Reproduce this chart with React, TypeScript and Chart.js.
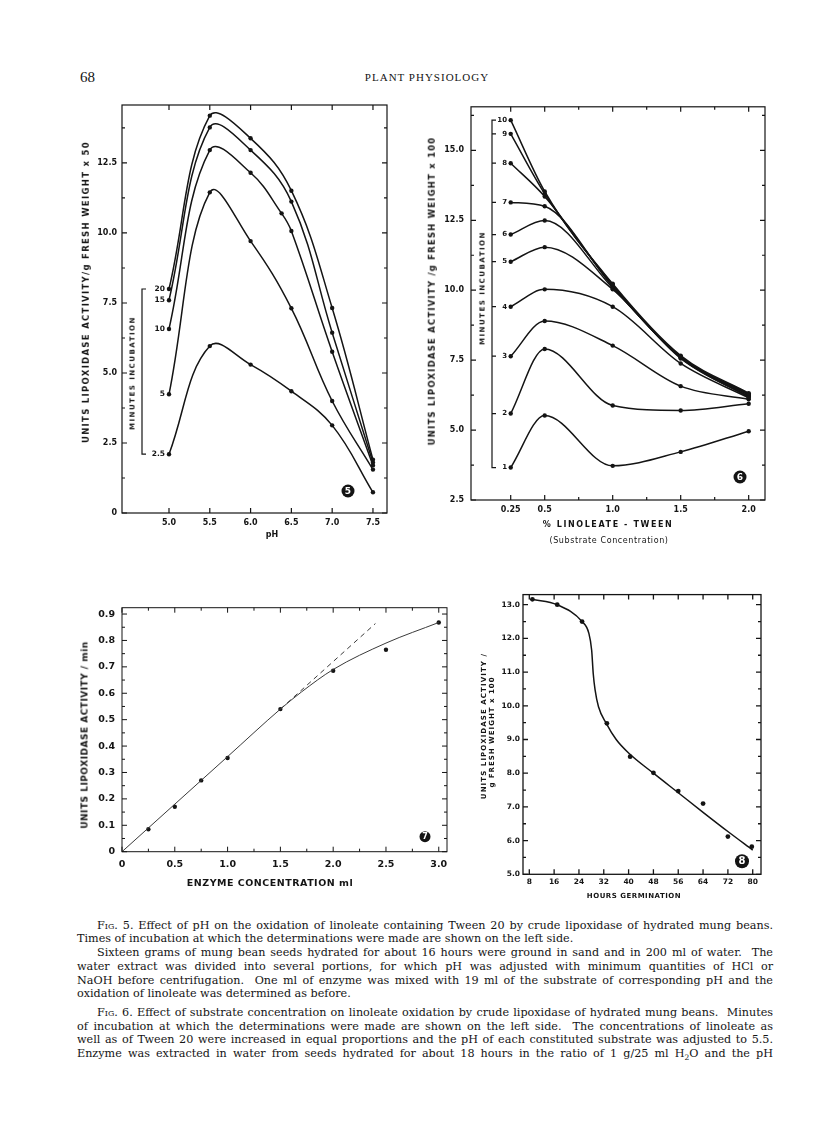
import React, { useEffect, useRef } from "react";
import { Chart, registerables } from "chart.js";
Chart.register(...registerables);

const INK = "#141414";
const FONT = "DejaVu Sans";

// ---------- Fig. 5 (pH) ----------
const fig5X = [5.0, 5.5, 6.0, 6.5, 7.0, 7.5];
const fig5Min20 = [8.0, 14.19, 13.38, 11.51, 7.32, 1.9];
const fig5Min15 = [7.6, 13.77, 12.96, 11.12, 6.44, 1.8];
const fig5Min10X = [5.0, 5.5, 6.0, 6.38, 6.5, 7.0, 7.5];
const fig5Min10 = [6.57, 12.96, 12.15, 10.7, 10.07, 5.76, 1.7];
const fig5Min5 = [4.24, 11.45, 9.71, 7.31, 4.0, 1.55];
const fig5Min2p5 = [2.1, 5.96, 5.3, 4.35, 3.13, 0.74];
const fig5SeriesLabels = ["20", "15", "10", "5", "2.5"];
const fig5XTicks = [5.0, 5.5, 6.0, 6.5, 7.0, 7.5];
const fig5XTickLabels = ["5.0", "5.5", "6.0", "6.5", "7.0", "7.5"];
const fig5YTicks = [0, 2.5, 5, 7.5, 10, 12.5];
const fig5YTickLabels = ["0", "2.5", "5.0", "7.5", "10.0", "12.5"];
const fig5YMinor = [1.25, 3.75, 6.25, 8.75, 11.25, 13.75];

// ---------- Fig. 6 (substrate) ----------
const fig6X = [0.25, 0.5, 1.0, 1.5, 2.0];
const fig6Min10 = [16.08, 13.53, 10.23, 7.66, 6.32];
const fig6Min9 = [15.59, 13.45, 10.2, 7.63, 6.29];
const fig6Min8 = [14.54, 13.35, 10.15, 7.62, 6.27];
const fig6Min7 = [13.14, 13.0, 10.13, 7.6, 6.24];
const fig6Min6 = [11.99, 12.49, 10.08, 7.58, 6.2];
const fig6Min5 = [11.02, 11.54, 10.03, 7.56, 6.18];
const fig6Min4 = [9.41, 10.03, 9.41, 7.38, 6.15];
const fig6Min3 = [7.64, 8.9, 8.02, 6.57, 6.1];
const fig6Min2 = [5.59, 7.9, 5.88, 5.7, 5.94];
const fig6Min1 = [3.66, 5.52, 3.72, 4.22, 4.96];
const fig6SeriesLabels = ["10", "9", "8", "7", "6", "5", "4", "3", "2", "1"];
const fig6XTicks = [0.25, 0.5, 1.0, 1.5, 2.0];
const fig6XTickLabels = ["0.25", "0.5", "1.0", "1.5", "2.0"];
const fig6XMinor = [0.75, 1.25, 1.75];
const fig6YTicks = [2.5, 5, 7.5, 10, 12.5, 15];
const fig6YTickLabels = ["2.5", "5.0", "7.5", "10.0", "12.5", "15.0"];
const fig6YMinor = [3.75, 6.25, 8.75, 11.25, 13.75, 16.25];

// ---------- Fig. 7 (enzyme concentration) ----------
const fig7X = [0.25, 0.5, 0.75, 1.0, 1.5, 2.0, 2.5, 3.0];
const fig7Y = [0.085, 0.17, 0.27, 0.355, 0.54, 0.685, 0.765, 0.868];
const fig7FitX = [0, 1.0, 1.5, 1.7, 2.0, 2.5, 3.0];
const fig7FitY = [0, 0.36, 0.54, 0.605, 0.69, 0.79, 0.868];
const fig7DashX = [1.5, 2.4];
const fig7DashY = [0.54, 0.864];
const fig7XTicks = [0, 0.5, 1.0, 1.5, 2.0, 2.5, 3.0];
const fig7XTickLabels = ["0", "0.5", "1.0", "1.5", "2.0", "2.5", "3.0"];
const fig7XMinor = [0.25, 0.75, 1.25, 1.75, 2.25, 2.75];
const fig7YTicks = [0, 0.1, 0.2, 0.3, 0.4, 0.5, 0.6, 0.7, 0.8, 0.9];
const fig7YTickLabels = ["0", "0.1", "0.2", "0.3", "0.4", "0.5", "0.6", "0.7", "0.8", "0.9"];
const fig7YMinor = [0.05, 0.15, 0.25, 0.35, 0.45, 0.55, 0.65, 0.75, 0.85];

// ---------- Fig. 8 (hours germination) ----------
const fig8X = [9, 17, 25, 33, 40.5, 48, 56, 64, 72, 79.7];
const fig8Y = [13.16, 13.0, 12.5, 9.48, 8.49, 8.01, 7.47, 7.1, 6.12, 5.82];
const fig8FitX = [9, 17, 25, 27.2, 28.1, 28.6, 29.2, 30.3, 32.8, 36, 40, 48, 56, 64, 72, 80];
const fig8FitY = [13.16, 13.0, 12.5, 12.15, 11.65, 10.96, 10.47, 9.97, 9.48, 9.0, 8.6, 8.0, 7.42, 6.84, 6.27, 5.72];
const fig8XTicks = [8, 16, 24, 32, 40, 48, 56, 64, 72, 80];
const fig8XTickLabels = ["8", "16", "24", "32", "40", "48", "56", "64", "72", "80"];
const fig8YTicks = [5, 6, 7, 8, 9, 10, 11, 12, 13];
const fig8YTickLabels = ["5.0", "6.0", "7.0", "8.0", "9.0", "10.0", "11.0", "12.0", "13.0"];
const fig8YMinor = [5.5, 6.5, 7.5, 8.5, 9.5, 10.5, 11.5, 12.5];

// ---------- helpers ----------
const pts = (xs: number[], ys: number[]) => xs.map((x, i) => ({ x, y: ys[i] }));

const curve = (xs: number[], ys: number[], extra: any = {}) => ({
  data: pts(xs, ys),
  borderColor: INK,
  backgroundColor: INK,
  borderWidth: 1.5,
  pointRadius: 2.2,
  pointBackgroundColor: INK,
  pointBorderWidth: 0,
  tension: 0.4,
  ...extra,
});

function framePlugin(xMaj: number[], xMin: number[], yMaj: number[], yMin: number[], lw = 1.2) {
  return {
    id: "frameTicks",
    afterDatasetsDraw(chart: any) {
      const { ctx, chartArea: a, scales } = chart;
      const sx = scales.x, sy = scales.y;
      ctx.save();
      ctx.strokeStyle = INK;
      ctx.lineWidth = lw;
      ctx.strokeRect(a.left, a.top, a.right - a.left, a.bottom - a.top);
      ctx.beginPath();
      const hx = (vals: number[], len: number) =>
        vals.forEach((v) => {
          const p = sx.getPixelForValue(v);
          ctx.moveTo(p, a.bottom); ctx.lineTo(p, a.bottom - len);
          ctx.moveTo(p, a.top); ctx.lineTo(p, a.top + len);
        });
      const vy = (vals: number[], len: number) =>
        vals.forEach((v) => {
          const p = sy.getPixelForValue(v);
          ctx.moveTo(a.left, p); ctx.lineTo(a.left + len, p);
          ctx.moveTo(a.right, p); ctx.lineTo(a.right - len, p);
        });
      hx(xMaj, 5); hx(xMin, 3); vy(yMaj, 5); vy(yMin, 3);
      ctx.stroke();
      ctx.restore();
    },
  };
}

function badgePlugin(text: string, dx: number, dy: number, r: number) {
  return {
    id: "badge",
    afterDraw(chart: any) {
      const { ctx, chartArea: a } = chart;
      const cx = a.right - dx, cy = a.bottom - dy;
      ctx.save();
      ctx.fillStyle = INK;
      ctx.beginPath();
      ctx.arc(cx, cy, r, 0, Math.PI * 2);
      ctx.fill();
      ctx.fillStyle = "#fff";
      ctx.font = `bold ${Math.round(r * 1.45)}px ${FONT}`;
      ctx.textAlign = "center";
      ctx.textBaseline = "middle";
      ctx.fillText(text, cx, cy + 0.5);
      ctx.restore();
    },
  };
}

function bracketPlugin(labels: string[], firsts: number[], lineDx: number, labelDx: number, size: number, tickAll: boolean) {
  return {
    id: "bracket",
    afterDraw(chart: any) {
      const { ctx, chartArea: a, scales } = chart;
      const sy = scales.y;
      const ys = firsts.map((v) => sy.getPixelForValue(v));
      const top = Math.min(...ys), bot = Math.max(...ys);
      const bx = a.left + lineDx;
      ctx.save();
      ctx.strokeStyle = INK;
      ctx.lineWidth = 1.2;
      ctx.beginPath();
      ctx.moveTo(bx + 4, top); ctx.lineTo(bx, top); ctx.lineTo(bx, bot); ctx.lineTo(bx + 4, bot);
      if (tickAll) ys.forEach((y) => { ctx.moveTo(bx, y); ctx.lineTo(bx + 4, y); });
      ctx.stroke();
      ctx.fillStyle = INK;
      ctx.font = `bold ${size}px ${FONT}`;
      ctx.textAlign = "right";
      ctx.textBaseline = "middle";
      labels.forEach((t, i) => ctx.fillText(t, a.left + labelDx, ys[i]));
      ctx.restore();
    },
  };
}

function buildConfig(p: any) {
  return {
    type: "line",
    data: { datasets: p.datasets },
    plugins: p.plugins,
    options: {
      responsive: false,
      animation: false,
      devicePixelRatio: 1,
      layout: { padding: { left: 0, right: p.padR, top: p.padT, bottom: 0 } },
      plugins: { legend: { display: false }, tooltip: { enabled: false } },
      scales: {
        x: {
          type: "linear", min: p.xMin, max: p.xMax,
          grid: { display: false, drawTicks: false }, border: { display: false },
          afterBuildTicks: (s: any) => { s.ticks = p.xTicks.map((v: number) => ({ value: v })); },
          afterFit: (s: any) => { s.height = p.xH; },
          ticks: { autoSkip: false, maxRotation: 0, padding: p.xPad, color: INK, font: p.xFont || p.font,
            callback: (_v: any, i: number) => p.xLabels[i] },
        },
        y: {
          type: "linear", min: p.yMin, max: p.yMax,
          grid: { display: false, drawTicks: false }, border: { display: false },
          afterBuildTicks: (s: any) => { s.ticks = p.yTicks.map((v: number) => ({ value: v })); },
          afterFit: (s: any) => { s.width = p.yW; },
          ticks: { autoSkip: false, padding: p.yPad, color: INK, font: p.font,
            callback: (_v: any, i: number) => p.yLabels[i] },
        },
      },
    },
  };
}

function ChartBox({ left, top, width, height, make }: any) {
  const ref = useRef<HTMLCanvasElement>(null);
  useEffect(() => {
    const chart = new Chart(ref.current as HTMLCanvasElement, make());
    return () => chart.destroy();
  }, []);
  return (
    <canvas ref={ref} width={width} height={height}
      style={{ position: "absolute", left, top, width, height }} />
  );
}

const makeFig5 = () =>
  buildConfig({
    datasets: [
      curve(fig5X, fig5Min20),
      curve(fig5X, fig5Min15),
      curve(fig5Min10X, fig5Min10),
      curve(fig5X, fig5Min5),
      curve(fig5X, fig5Min2p5),
    ],
    plugins: [
      framePlugin(fig5XTicks, [], fig5YTicks, fig5YMinor),
      bracketPlugin(fig5SeriesLabels, [fig5Min20[0], fig5Min15[0], fig5Min10[0], fig5Min5[0], fig5Min2p5[0]], 20, 43, 7.5, false),
      badgePlugin("5", 39, 22, 6.5),
    ],
    xMin: 4.424, xMax: 7.672, yMin: 0, yMax: 14.57,
    xTicks: fig5XTicks, xLabels: fig5XTickLabels, yTicks: fig5YTicks, yLabels: fig5YTickLabels,
    yW: 42, xH: 42, padT: 10, padR: 23, xPad: 5, yPad: 5,
    font: { family: FONT, size: 8, weight: "bold" },
  });

const mono = { cubicInterpolationMode: "monotone" };

const makeFig6 = () =>
  buildConfig({
    datasets: [
      curve(fig6X, fig6Min10, mono), curve(fig6X, fig6Min9, mono), curve(fig6X, fig6Min8, mono), curve(fig6X, fig6Min7, mono),
      curve(fig6X, fig6Min6, mono), curve(fig6X, fig6Min5, mono), curve(fig6X, fig6Min4, mono), curve(fig6X, fig6Min3, mono),
      curve(fig6X, fig6Min2, mono), curve(fig6X, fig6Min1, mono),
    ],
    plugins: [
      framePlugin(fig6XTicks, fig6XMinor, fig6YTicks, fig6YMinor),
      bracketPlugin(fig6SeriesLabels,
        [fig6Min10[0], fig6Min9[0], fig6Min8[0], fig6Min7[0], fig6Min6[0], fig6Min5[0], fig6Min4[0], fig6Min3[0], fig6Min2[0], fig6Min1[0]],
        21, 36, 7, true),
      badgePlugin("6", 25, 23, 6.5),
    ],
    xMin: -0.042, xMax: 2.12, yMin: 2.5, yMax: 16.557,
    xTicks: fig6XTicks, xLabels: fig6XTickLabels, yTicks: fig6YTicks, yLabels: fig6YTickLabels,
    yW: 46, xH: 55, padT: 10, padR: 20, xPad: 5, yPad: 7,
    font: { family: FONT, size: 8, weight: "bold" },
  });

const makeFig7 = () =>
  buildConfig({
    datasets: [
      { ...curve(fig7FitX, fig7FitY, { borderWidth: 1, borderColor: "#3a3a3a", pointRadius: 0, cubicInterpolationMode: "monotone" }) },
      { ...curve(fig7DashX, fig7DashY, { borderWidth: 1, borderColor: "#3a3a3a", pointRadius: 0, borderDash: [5, 4], tension: 0 }) },
      { ...curve(fig7X, fig7Y, { showLine: false, pointRadius: 2.2 }) },
    ],
    plugins: [
      framePlugin(fig7XTicks, fig7XMinor, fig7YTicks, fig7YMinor, 1),
      badgePlugin("7", 22, 15, 5.5),
    ],
    xMin: 0, xMax: 3.078, yMin: 0, yMax: 0.924,
    xTicks: fig7XTicks, xLabels: fig7XTickLabels, yTicks: fig7YTicks, yLabels: fig7YTickLabels,
    yW: 42, xH: 43.3, padT: 9, padR: 13, xPad: 7, yPad: 7,
    font: { family: FONT, size: 9.5, weight: "bold" },
  });

const makeFig8 = () =>
  buildConfig({
    datasets: [
      { ...curve(fig8FitX, fig8FitY, { pointRadius: 0, cubicInterpolationMode: "monotone" }) },
      { ...curve(fig8X, fig8Y, { showLine: false, pointRadius: 2.4 }) },
    ],
    plugins: [
      framePlugin(fig8XTicks, [], fig8YTicks, fig8YMinor, 1.3),
      badgePlugin("8", 19, 13, 7),
    ],
    xMin: 5.97, xMax: 82.67, yMin: 5, yMax: 13.3,
    xTicks: fig8XTicks, xLabels: fig8XTickLabels, yTicks: fig8YTicks, yLabels: fig8YTickLabels,
    yW: 43, xH: 25.7, padT: 8.6, padR: 19, xPad: 3, yPad: 3,
    font: { family: FONT, size: 7.5, weight: "bold" },
  });

function Txt({ x, y, t, size, bold = true, ls = 0, rot = false, fam = FONT }: any) {
  return (
    <div style={{
      position: "absolute", left: x, top: y, whiteSpace: "nowrap",
      transform: `translate(-50%, -50%)${rot ? " rotate(-90deg)" : ""}`,
      fontFamily: fam, fontSize: size, fontWeight: bold ? "bold" : "normal",
      letterSpacing: ls, color: INK, lineHeight: 1,
    }}>{t}</div>
  );
}

const SC = ({ children }: any) => <span style={{ fontVariant: "small-caps" }}>{children}</span>;

const captionLines: any[] = [
  { top: 918.5, indent: true, just: true, c: <><SC>Fig.</SC> 5. Effect of pH on the oxidation of linoleate containing Tween 20 by crude lipoxidase of hydrated mung beans.</> },
  { top: 932.2, indent: false, just: false, c: <>Times of incubation at which the determinations were made are shown on the left side.</> },
  { top: 946.2, indent: true, just: true, c: <>Sixteen grams of mung bean seeds hydrated for about 16 hours were ground in sand and in 200 ml of water.&nbsp; The</> },
  { top: 960.2, indent: false, just: true, c: <>water extract was divided into several portions, for which pH was adjusted with minimum quantities of HCl or</> },
  { top: 973.9, indent: false, just: true, c: <>NaOH before centrifugation.&nbsp; One ml of enzyme was mixed with 19 ml of the substrate of corresponding pH and the</> },
  { top: 987.2, indent: false, just: false, c: <>oxidation of linoleate was determined as before.</> },
  { top: 1006.2, indent: true, just: true, c: <><SC>Fig.</SC> 6. Effect of substrate concentration on linoleate oxidation by crude lipoxidase of hydrated mung beans.&nbsp; Minutes</> },
  { top: 1019.9, indent: false, just: true, c: <>of incubation at which the determinations were made are shown on the left side.&nbsp; The concentrations of linoleate as</> },
  { top: 1033.2, indent: false, just: true, c: <>well as of Tween 20 were increased in equal proportions and the pH of each constituted substrate was adjusted to 5.5.</> },
  { top: 1046.9, indent: false, just: true, c: <>Enzyme was extracted in water from seeds hydrated for about 18 hours in the ratio of 1 g/25 ml H<sub style={{ fontSize: 7.5, lineHeight: 0 }}>2</sub>O and the pH</> },
];

export default function App() {
  return (
    <div style={{ position: "absolute", left: 0, top: 0, width: 816, height: 1121, background: "#fff", overflow: "hidden" }}>
      {/* header */}
      <div style={{ position: "absolute", left: 80, top: 69, fontFamily: "Liberation Serif", fontSize: 15, color: INK }}>68</div>
      <Txt x={427} y={77} t="PLANT PHYSIOLOGY" size={11} bold={false} ls={1} fam="Liberation Serif" />

      {/* Fig 5 */}
      <ChartBox left={80} top={95} width={330} height={460} make={makeFig5} />
      <Txt x={86} y={292} t="UNITS  LIPOXIDASE  ACTIVITY/g  FRESH  WEIGHT  x 50" size={8.5} ls={1.3} rot />
      <Txt x={133} y={373} t="MINUTES  INCUBATION" size={7} ls={1.5} rot />
      <Txt x={272} y={535} t="pH" size={8} />

      {/* Fig 6 */}
      <ChartBox left={425} top={95} width={360} height={460} make={makeFig6} />
      <Txt x={432} y={291} t="UNITS  LIPOXIDASE  ACTIVITY /g  FRESH  WEIGHT  x 100" size={8.5} ls={1.2} rot />
      <Txt x={483} y={288} t="MINUTES  INCUBATION" size={7} ls={1.5} rot />
      <Txt x={608} y={525} t="%  LINOLEATE - TWEEN" size={8} ls={1.6} />
      <Txt x={609} y={541} t="(Substrate  Concentration)" size={8} bold={false} ls={0.6} />

      {/* Fig 7 */}
      <ChartBox left={80} top={595} width={380} height={300} make={makeFig7} />
      <Txt x={85} y={735} t="UNITS  LIPOXIDASE  ACTIVITY / min" size={9} ls={0.5} rot />
      <Txt x={270} y={883} t="ENZYME  CONCENTRATION  ml" size={9.5} ls={0.5} />

      {/* Fig 8 */}
      <ChartBox left={480} top={586} width={300} height={314} make={makeFig8} />
      <Txt x={484} y={726} t="UNITS  LIPOXIDASE  ACTIVITY /" size={7} ls={1.1} rot />
      <Txt x={492} y={732} t="g  FRESH  WEIGHT  x 100" size={7} ls={1} rot />
      <Txt x={634} y={896} t="HOURS  GERMINATION" size={7} ls={0.5} />

      {/* captions */}
      {captionLines.map((l, i) => (
        <div key={i} style={{
          position: "absolute", left: l.indent ? 97 : 77, top: l.top, width: l.indent ? 676 : 696,
          fontFamily: "DejaVu Serif", fontSize: 11.2, lineHeight: "14px", color: INK,
          textAlign: l.just ? "justify" : "left", textAlignLast: l.just ? "justify" : "left",
        }}>{l.c}</div>
      ))}
    </div>
  );
}
